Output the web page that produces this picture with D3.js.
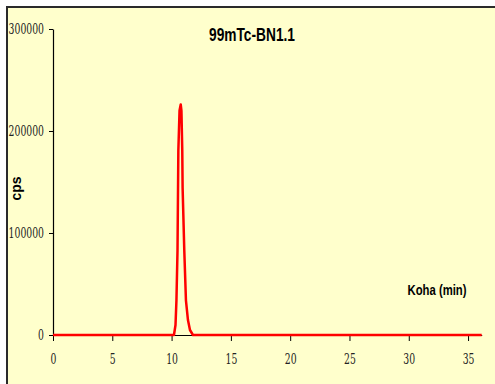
<!DOCTYPE html>
<html><head><meta charset="utf-8">
<script src="https://cdn.jsdelivr.net/npm/d3@7"></script>
<style>html,body{margin:0;padding:0;background:#fff;}svg{display:block;}</style>
</head><body>
<svg id="c" width="495" height="384"></svg>
<script>
const title = "99mTc-BN1.1";
const xLabel = "Koha (min)";
const yLabel = "cps";
const xTicks = [0, 5, 10, 15, 20, 25, 30, 35];
const yTicks = [0, 100000, 200000, 300000];
const timeMin = [0, 5, 10, 10.2, 10.33, 10.41, 10.5, 10.57, 10.67, 10.77, 10.83, 10.9, 10.93, 11.07, 11.21, 11.38, 11.55, 11.8, 15, 20, 25, 30, 36.15];
const cps = [0, 0, 0, 0, 9800, 34000, 83000, 181000, 220000, 226000, 220000, 181000, 144000, 83000, 34000, 14700, 4900, 0, 0, 0, 0, 0, 0];

const svg = d3.select("#c");
svg.append("rect").attr("x", 7).attr("y", 7).attr("width", 500).attr("height", 400)
  .attr("fill", "#FFFFCC").attr("stroke", "#2a2a2a").attr("stroke-width", 2);

const x = d3.scaleLinear().domain([0, 36.15]).range([53, 481.7]);
const y = d3.scaleLinear().domain([0, 300000]).range([335, 29]);

const xAxis = svg.append("g").attr("transform", "translate(0,335)")
  .call(d3.axisBottom(x).tickValues(xTicks).tickSize(6).tickPadding(18).tickSizeOuter(0));
const yAxis = svg.append("g").attr("transform", "translate(53,0)")
  .call(d3.axisLeft(y).tickValues(yTicks).tickFormat(d3.format("d")).tickSize(4).tickPadding(5).tickSizeOuter(0));
[xAxis, yAxis].forEach(g => {
  g.select(".domain").attr("stroke", "#000").attr("stroke-width", 1.2);
  g.selectAll(".tick line").attr("stroke", "#000");
  g.selectAll(".tick text").attr("font-family", "'DejaVu Serif', 'Liberation Serif', serif")
    .attr("font-size", 14).attr("fill", "#222")
    .each(function() {
      const t = d3.select(this);
      t.attr("textLength", t.text().length * 5.9).attr("lengthAdjust", "spacingAndGlyphs");
    });
});
xAxis.selectAll(".tick text").attr("dy", "0.35em");

svg.append("path").datum(timeMin.map((t, i) => [t, cps[i]]))
  .attr("fill", "none").attr("stroke", "#FF0000").attr("stroke-width", 2.5)
  .attr("stroke-linejoin", "round")
  .attr("d", d3.line().x(d => x(d[0])).y(d => y(d[1])));

svg.append("text").attr("x", 252).attr("y", 41).attr("text-anchor", "middle")
  .attr("font-family", "'Liberation Sans', Arial, sans-serif").attr("font-weight", "bold")
  .attr("font-size", 18).attr("textLength", 86).attr("lengthAdjust", "spacingAndGlyphs").text(title);

svg.append("text").attr("x", 437).attr("y", 295).attr("text-anchor", "middle")
  .attr("font-family", "'Liberation Sans', Arial, sans-serif").attr("font-weight", "bold")
  .attr("font-size", 15).attr("textLength", 59).attr("lengthAdjust", "spacingAndGlyphs").text(xLabel);

svg.append("text").attr("transform", "translate(21,188.5) rotate(-90)").attr("text-anchor", "middle")
  .attr("font-family", "'Liberation Sans', Arial, sans-serif").attr("font-weight", "bold")
  .attr("font-size", 14).text(yLabel);
</script>
</body></html>
